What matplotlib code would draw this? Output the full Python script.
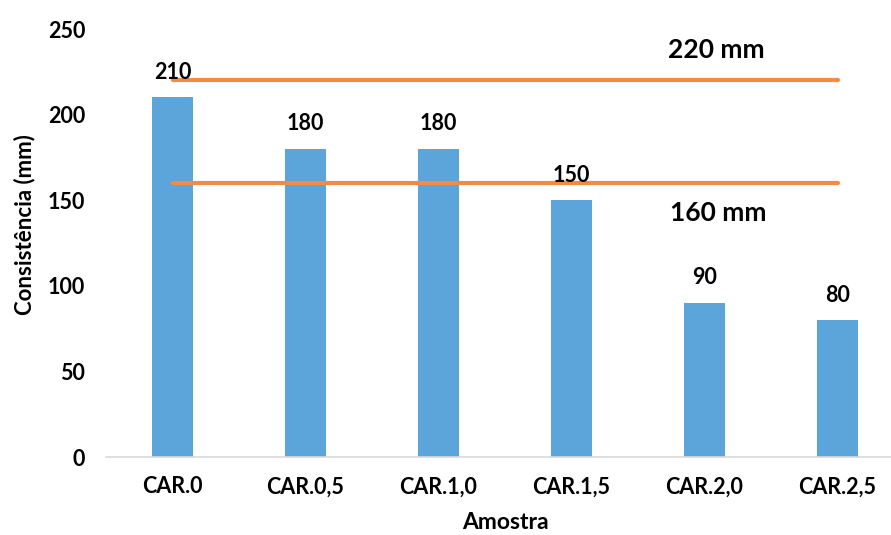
import matplotlib.pyplot as plt

amostras = ['CAR.0', 'CAR.0,5', 'CAR.1,0', 'CAR.1,5', 'CAR.2,0', 'CAR.2,5']
consistencia = [210, 180, 180, 150, 90, 80]
limite_sup = [220, 220, 220, 220, 220, 220]
limite_inf = [160, 160, 160, 160, 160, 160]
yticks = [0, 50, 100, 150, 200, 250]

plt.rcParams['font.family'] = ['Lato', 'DejaVu Sans']
plt.rcParams['font.weight'] = 'bold'

fig = plt.figure(figsize=(8.91, 5.35), dpi=100)
# axes run slightly past the right edge of the figure
ax = fig.add_axes([106/891, 1-457/535, 798/891, 428/535])

x = range(len(amostras))
ax.bar(x, consistencia, width=0.31, color='#5BA5DA', zorder=2)
ax.plot(x, limite_sup, color='#F28C45', lw=3, solid_capstyle='round', zorder=3)
ax.plot(x, limite_inf, color='#F28C45', lw=3, solid_capstyle='round', zorder=3)

# value labels above the bars
for xi, v in zip(x, consistencia):
    ax.annotate(str(v), (xi, v), xytext=(0, 18), textcoords='offset points',
                ha='center', va='center', fontsize=15.5, fontweight='bold')

ax.text(4.09, 237.5, '220 mm', ha='center', va='center', fontsize=19, fontweight='bold')
ax.text(4.10, 142.5, '160 mm', ha='center', va='center', fontsize=19, fontweight='bold')

ax.set_xlim(-0.5, 5.5)
ax.set_ylim(0, 250)
ax.set_yticks(yticks)
ax.set_xticks(list(x))
ax.set_xticklabels(amostras)
ax.tick_params(axis='both', length=0, labelsize=15.5)
ax.tick_params(axis='y', pad=15)
ax.tick_params(axis='x', pad=14)

for s in ['top', 'right', 'left']:
    ax.spines[s].set_visible(False)
ax.spines['bottom'].set_color('#D9D9D9')
ax.spines['bottom'].set_linewidth(1.2)

ax.set_ylabel('Consistência (mm)', fontsize=16, fontweight='bold', va='center')
ax.yaxis.set_label_coords(-0.1015, 0.543)
ax.set_xlabel('Amostra', fontsize=16.5, fontweight='bold', va='center')
ax.xaxis.set_label_coords(0.5, -0.152)

fig.savefig('out.png', dpi=100)
